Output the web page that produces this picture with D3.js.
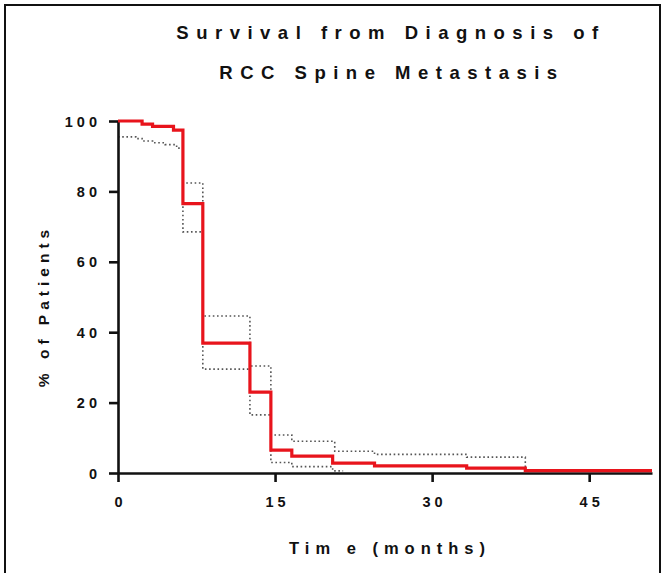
<!DOCTYPE html>
<html>
<head>
<meta charset="utf-8">
<script src="https://cdn.jsdelivr.net/npm/d3@7"></script>
<style>
  body { margin: 0; background: #fff; }
  svg text { font-family: "Liberation Sans", Arial, sans-serif; font-weight: bold; fill: #111; }
</style>
</head>
<body>
<script>
// Kaplan-Meier estimate (months, % surviving)
const survTime  = [0, 2.3, 3.3, 5.3, 6.2, 8.1, 12.6, 14.6, 16.6, 20.5, 24.5, 33.3, 38.9, 51];
const survPct   = [100, 99.1, 98.5, 97.4, 76.5, 36.9, 23, 6.5, 4.8, 2.8, 2.0, 1.4, 0.7, 0.7];

// 95% confidence band
const upperTime = [0, 2.3, 3.3, 5.3, 6.2, 8.1, 12.6, 14.6, 16.6, 20.7, 24.5, 33.3, 38.9];
const upperPct  = [100, 99.1, 98.5, 97.4, 82.4, 44.6, 30.4, 10.8, 9.0, 6.2, 5.3, 4.5, 0.7];
const lowerTime = [0, 1.7, 2.3, 3.3, 4.5, 5.6, 6.2, 8.1, 12.6, 14.6, 16.6, 20.5, 21.5];
const lowerPct  = [95.5, 95.0, 94.3, 93.8, 93.3, 92.3, 68.5, 29.5, 16.5, 3.0, 1.8, 0.6, 0.6];

const xTicks = [0, 15, 30, 45];
const yTicks = [0, 20, 40, 60, 80, 100];

const width = 665, height = 573;
const margin = { left: 118, right: 13, top: 121, bottom: 100 };

const svg = d3.select("body").append("svg")
    .attr("width", width)
    .attr("height", height);

// frame round the figure
svg.append("rect")
    .attr("x", 5).attr("y", 5)
    .attr("width", 655).attr("height", 580)
    .attr("fill", "none")
    .attr("stroke", "#111")
    .attr("stroke-width", 2);

const x = d3.scaleLinear().domain([0, 51]).range([margin.left, width - margin.right]);
const y = d3.scaleLinear().domain([0, 100]).range([height - margin.bottom, margin.top]);

const toPts = (ts, ps) => ts.map((t, i) => [t, ps[i]]);
const line = d3.line()
    .x(d => x(d[0]))
    .y(d => y(d[1]))
    .curve(d3.curveStepAfter);

// confidence limits (dotted)
[toPts(upperTime, upperPct), toPts(lowerTime, lowerPct)].forEach(pts => {
    svg.append("path")
        .datum(pts)
        .attr("fill", "none")
        .attr("stroke", "#555")
        .attr("stroke-width", 1.6)
        .attr("stroke-dasharray", "1.6 2.6")
        .attr("d", line);
});

// axes
const xAxis = svg.append("g")
    .attr("transform", `translate(0,${y(0)})`)
    .call(d3.axisBottom(x).tickValues(xTicks).tickSize(9).tickPadding(15).tickSizeOuter(0));
const yAxis = svg.append("g")
    .attr("transform", `translate(${x(0)},0)`)
    .call(d3.axisLeft(y).tickValues(yTicks).tickSize(9).tickPadding(8).tickSizeOuter(0));

[xAxis, yAxis].forEach(g => {
    g.select(".domain").attr("stroke", "#111").attr("stroke-width", 2.6);
    g.selectAll(".tick line").attr("stroke", "#111").attr("stroke-width", 2.6);
    g.selectAll(".tick text")
        .style("font-size", "14.5px")
        .style("font-family", "'Liberation Sans', Arial, sans-serif")
        .style("font-weight", "bold")
        .style("letter-spacing", "4px")
        .attr("fill", "#111");
});
yAxis.selectAll(".tick text").attr("dy", "0.35em");
xAxis.selectAll(".tick text").attr("dx", "2px");

// survival curve
svg.append("path")
    .datum(toPts(survTime, survPct))
    .attr("fill", "none")
    .attr("stroke", "#e8141c")
    .attr("stroke-width", 3.2)
    .attr("d", line);

// titles
svg.append("text")
    .attr("x", 391).attr("y", 39)
    .attr("text-anchor", "middle")
    .style("font-size", "18.5px")
    .style("letter-spacing", "7.5px")
    .text("Survival from Diagnosis of");
svg.append("text")
    .attr("x", 392).attr("y", 79)
    .attr("text-anchor", "middle")
    .style("font-size", "18.5px")
    .style("letter-spacing", "7.5px")
    .text("RCC Spine Metastasis");

svg.append("text")
    .attr("x", 390).attr("y", 554)
    .attr("text-anchor", "middle")
    .style("font-size", "16.5px")
    .style("letter-spacing", "6px")
    .text("Tim e (months)");

svg.append("text")
    .attr("transform", "translate(49,306) rotate(-90)")
    .attr("text-anchor", "middle")
    .style("font-size", "15.5px")
    .style("letter-spacing", "5px")
    .text("% of Patients");
</script>
</body>
</html>
